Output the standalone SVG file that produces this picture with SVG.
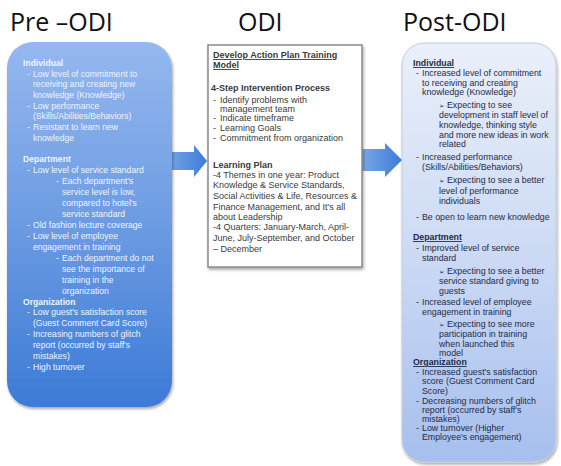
<svg xmlns="http://www.w3.org/2000/svg" width="561" height="466" viewBox="0 0 561 466">
<style>
.title{font-family:"Open Sans","Liberation Sans",sans-serif;font-size:25px;fill:#111}
.lt{font-family:"Liberation Sans",Arial,sans-serif;font-size:8.6px;fill:#eef4ff}
.mt{font-family:"Liberation Sans",Arial,sans-serif;font-size:9px;fill:#3a3a3a}
.rt{font-family:"Liberation Sans",Arial,sans-serif;font-size:8.8px;fill:#1e2a48}
.b{font-weight:bold}
.u{text-decoration:underline}
.sym{font-family:"DejaVu Sans",sans-serif;font-size:6.5px}
</style>
<defs>
<linearGradient id="gPre" x1="0" y1="0" x2="0" y2="1">
<stop offset="0" stop-color="#95b8ef"/>
<stop offset="0.5" stop-color="#6c9be2"/>
<stop offset="1" stop-color="#3c7bd6"/>
</linearGradient>
<linearGradient id="gPost" x1="0" y1="0" x2="0" y2="1">
<stop offset="0" stop-color="#eaf0fa"/>
<stop offset="0.5" stop-color="#ccdaf4"/>
<stop offset="1" stop-color="#a6bfee"/>
</linearGradient>
<linearGradient id="gArrow" x1="0" y1="0" x2="1" y2="0">
<stop offset="0" stop-color="#7aa6e6"/>
<stop offset="1" stop-color="#3b7cd8"/>
</linearGradient>
<filter id="sh" x="-10%" y="-10%" width="120%" height="120%">
<feGaussianBlur in="SourceAlpha" stdDeviation="1.5"/>
<feOffset dx="1" dy="1.5" result="o"/>
<feComponentTransfer><feFuncA type="linear" slope="0.35"/></feComponentTransfer>
<feMerge><feMergeNode/><feMergeNode in="SourceGraphic"/></feMerge>
</filter>
</defs>
<rect width="561" height="466" fill="#ffffff"/>

<g id="titles">
<text class="title" x="10" y="31">Pre –ODI</text>
<text class="title" x="238" y="31">ODI</text>
<text class="title" x="403" y="31">Post-ODI</text>
</g>

<g id="connectors">
<polygon points="166,152 194,152 194,145 207,161 194,177 194,170 166,170" fill="url(#gArrow)"/>
<polygon points="362,149 385,149 385,143 402,160 385,177 385,171 362,171" fill="url(#gArrow)"/>
</g>

<g id="node-pre">
<rect x="7" y="42" width="165" height="365" rx="26" fill="url(#gPre)" filter="url(#sh)"/>
<text class="lt b" x="23" y="66">Individual</text>
<text class="lt" x="27" y="77">-</text><text class="lt" x="33" y="77">Low level of commitment to</text>
<text class="lt" x="33" y="87">receiving and creating new</text>
<text class="lt" x="33" y="98">knowledge (Knowledge)</text>
<text class="lt" x="27" y="109">-</text><text class="lt" x="33" y="109">Low performance</text>
<text class="lt" x="33" y="119">(Skills/Abilities/Behaviors)</text>
<text class="lt" x="27" y="130">-</text><text class="lt" x="33" y="130">Resistant to learn new</text>
<text class="lt" x="33" y="141">knowledge</text>
<text class="lt b" x="23" y="162">Department</text>
<text class="lt" x="27" y="173">-</text><text class="lt" x="33" y="173">Low level of service standard</text>
<text class="lt" x="56" y="184">-</text><text class="lt" x="62" y="184">Each department's</text>
<text class="lt" x="62" y="195">service level is low,</text>
<text class="lt" x="62" y="206">compared to hotel's</text>
<text class="lt" x="62" y="217">service standard</text>
<text class="lt" x="27" y="228">-</text><text class="lt" x="33" y="228">Old fashion lecture coverage</text>
<text class="lt" x="27" y="239">-</text><text class="lt" x="33" y="239">Low level of employee</text>
<text class="lt" x="33" y="250">engagement in training</text>
<text class="lt" x="56" y="261">-</text><text class="lt" x="62" y="261">Each department do not</text>
<text class="lt" x="62" y="272">see the importance of</text>
<text class="lt" x="62" y="283">training in the</text>
<text class="lt" x="62" y="294">organization</text>
<text class="lt b" x="23" y="305">Organization</text>
<text class="lt" x="27" y="315">-</text><text class="lt" x="33" y="315">Low guest's satisfaction score</text>
<text class="lt" x="33" y="326">(Guest Comment Card Score)</text>
<text class="lt" x="27" y="337">-</text><text class="lt" x="33" y="337">Increasing numbers of glitch</text>
<text class="lt" x="33" y="348">report (occurred by staff's</text>
<text class="lt" x="33" y="359">mistakes)</text>
<text class="lt" x="27" y="370">-</text><text class="lt" x="33" y="370">High turnover</text>
</g>

<g id="node-odi">
<rect x="208" y="45" width="154" height="222" fill="#ffffff" stroke="#8a8a8a" stroke-width="1.5" filter="url(#sh)"/>
<text class="mt b u" x="213" y="58">Develop Action Plan Training</text>
<text class="mt b u" x="213" y="68">Model</text>
<text class="mt b" x="211" y="91">4-Step Intervention Process</text>
<text class="mt" x="213" y="103">-</text><text class="mt" x="220" y="103">Identify problems with</text>
<text class="mt" x="220" y="112">management team</text>
<text class="mt" x="213" y="121">-</text><text class="mt" x="220" y="121">Indicate timeframe</text>
<text class="mt" x="213" y="131">-</text><text class="mt" x="220" y="131">Learning Goals</text>
<text class="mt" x="213" y="141">-</text><text class="mt" x="220" y="141">Commitment from organization</text>
<text class="mt b" x="213" y="168">Learning Plan</text>
<text class="mt" x="213" y="178">-4 Themes in one year: Product</text>
<text class="mt" x="213" y="188">Knowledge &amp; Service Standards,</text>
<text class="mt" x="213" y="199">Social Activities &amp; Life, Resources &amp;</text>
<text class="mt" x="213" y="210">Finance Management, and It's all</text>
<text class="mt" x="213" y="220">about Leadership</text>
<text class="mt" x="213" y="230">-4 Quarters: January-March, April-</text>
<text class="mt" x="213" y="241">June, July-September, and October</text>
<text class="mt" x="213" y="252">– December</text>
</g>

<g id="node-post">
<rect x="402" y="43" width="154" height="419" rx="22" fill="url(#gPost)" stroke="#c4ccd9" stroke-width="1" filter="url(#sh)"/>
<text class="rt b u" x="413" y="66">Individual</text>
<text class="rt" x="416" y="76">-</text><text class="rt" x="422" y="76">Increased level of commitment</text>
<text class="rt" x="422" y="86">to receiving and creating</text>
<text class="rt" x="422" y="95">knowledge (Knowledge)</text>
<text class="rt sym" x="439" y="108">➢</text><text class="rt" x="447" y="108">Expecting to see</text>
<text class="rt" x="439" y="118">development in staff level of</text>
<text class="rt" x="439" y="128">knowledge, thinking style</text>
<text class="rt" x="439" y="138">and more new ideas in work</text>
<text class="rt" x="439" y="147">related</text>
<text class="rt" x="416" y="160">-</text><text class="rt" x="422" y="160">Increased performance</text>
<text class="rt" x="422" y="170">(Skills/Abilities/Behaviors)</text>
<text class="rt sym" x="439" y="183">➢</text><text class="rt" x="447" y="183">Expecting to see a better</text>
<text class="rt" x="439" y="194">level of performance</text>
<text class="rt" x="439" y="204">individuals</text>
<text class="rt" x="416" y="220">-</text><text class="rt" x="422" y="220">Be open to learn new knowledge</text>
<text class="rt b u" x="413" y="240">Department</text>
<text class="rt" x="416" y="251">-</text><text class="rt" x="422" y="251">Improved level of service</text>
<text class="rt" x="422" y="261">standard</text>
<text class="rt sym" x="439" y="274">➢</text><text class="rt" x="447" y="274">Expecting to see a better</text>
<text class="rt" x="439" y="284">service standard giving to</text>
<text class="rt" x="439" y="294">guests</text>
<text class="rt" x="416" y="305">-</text><text class="rt" x="422" y="305">Increased level of employee</text>
<text class="rt" x="422" y="315">engagement in training</text>
<text class="rt sym" x="439" y="327">➢</text><text class="rt" x="447" y="327">Expecting to see more</text>
<text class="rt" x="439" y="337">participation in training</text>
<text class="rt" x="439" y="347">when launched this</text>
<text class="rt" x="439" y="356">model</text>
<text class="rt b u" x="413" y="365">Organization</text>
<text class="rt" x="416" y="375">-</text><text class="rt" x="422" y="375">Increased guest's satisfaction</text>
<text class="rt" x="422" y="384">score (Guest Comment Card</text>
<text class="rt" x="422" y="394">Score)</text>
<text class="rt" x="416" y="404">-</text><text class="rt" x="422" y="404">Decreasing numbers of glitch</text>
<text class="rt" x="422" y="413">report (occurred by staff's</text>
<text class="rt" x="422" y="422">mistakes)</text>
<text class="rt" x="416" y="431">-</text><text class="rt" x="422" y="431">Low turnover (Higher</text>
<text class="rt" x="422" y="440">Employee's engagement)</text>
</g>
</svg>
